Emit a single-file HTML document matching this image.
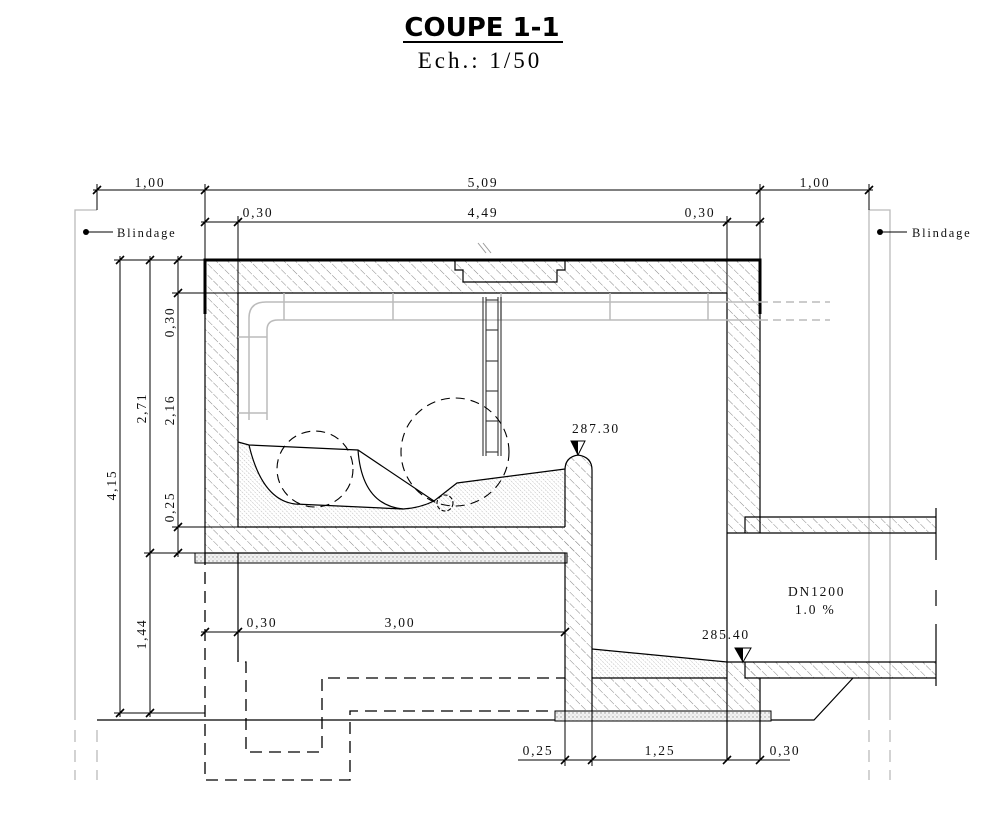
<!DOCTYPE html>
<html><head><meta charset="utf-8"><style>
html,body{margin:0;padding:0;background:#fff;width:1000px;height:818px;overflow:hidden}
svg{display:block}
.t{font-family:"Liberation Serif",serif;font-size:13.5px;letter-spacing:1.8px;fill:#111}
</style></head><body>
<svg width="1000" height="818" viewBox="0 0 1000 818" xmlns="http://www.w3.org/2000/svg">
<defs>
<pattern id="h" width="8" height="8" patternUnits="userSpaceOnUse" patternTransform="rotate(-45)">
<line x1="0" y1="0" x2="0" y2="8" stroke="#888" stroke-width="1" stroke-dasharray="4 1.5"/>
</pattern>
<pattern id="f" width="3" height="3" patternUnits="userSpaceOnUse" patternTransform="rotate(-45)">
<line x1="0" y1="0" x2="0" y2="3" stroke="#aaa" stroke-width="0.8" stroke-dasharray="1.5 1"/>
</pattern>
<pattern id="b" width="4" height="4" patternUnits="userSpaceOnUse">
<rect width="4" height="4" fill="#f2f2f2"/><circle cx="1" cy="1" r="0.7" fill="#999"/><circle cx="3" cy="3" r="0.5" fill="#bbb"/>
</pattern>
</defs>

<!-- title -->
<text x="482" y="36" text-anchor="middle" font-family="DejaVu Sans,sans-serif" font-weight="bold" font-size="26">COUPE 1-1</text>
<line x1="403" y1="42" x2="563" y2="42" stroke="#000" stroke-width="2"/>
<text x="480" y="68" text-anchor="middle" font-family="Liberation Serif,serif" font-size="23" letter-spacing="3">Ech.: 1/50</text>

<!-- blindage gray lines -->
<g stroke="#bbb" stroke-width="1.3" fill="none">
<polyline points="75,720 75,210 97,210"/>
<line x1="75" y1="730" x2="75" y2="780" stroke-dasharray="12 8"/>
<line x1="97" y1="730" x2="97" y2="780" stroke-dasharray="12 8"/>
<polyline points="869,720 869,210 890,210 890,720"/>
<line x1="869" y1="730" x2="869" y2="780" stroke-dasharray="12 8"/>
<line x1="890" y1="730" x2="890" y2="780" stroke-dasharray="12 8"/>
</g>
<circle cx="86" cy="232" r="3" fill="#000"/><line x1="86" y1="232" x2="113" y2="232" stroke="#000"/>
<text x="117" y="237" class="t" style="font-size:12.5px">Blindage</text>
<circle cx="880" cy="232" r="3" fill="#000"/><line x1="880" y1="232" x2="907" y2="232" stroke="#000"/>
<text x="912" y="237" class="t" style="font-size:12.5px">Blindage</text>

<!-- concrete hatch -->
<g fill="url(#h)" stroke="none">
<rect x="205" y="260" width="555" height="33"/>
<rect x="205" y="293" width="33" height="260"/>
<rect x="727" y="293" width="33" height="240"/>
<rect x="238" y="527" width="354" height="26"/>
<rect x="565" y="457" width="27" height="254"/>
<rect x="592" y="678" width="168" height="33"/>
<rect x="727" y="662" width="33" height="16"/>
<rect x="745" y="517" width="191" height="15"/>
<rect x="745" y="662" width="191" height="16"/>
</g>
<!-- blinding -->
<rect x="195" y="553" width="372" height="10" fill="url(#b)" stroke="#000" stroke-width="1"/>
<rect x="555" y="711" width="216" height="10" fill="url(#b)" stroke="#000" stroke-width="1"/>
<!-- fills -->
<path d="M238,442 L249,445 Q262,500 295,504 L403,509 Q420,508 434,501 L457,483 L565,469 L565,527 L238,527Z" fill="url(#f)"/>
<path d="M592,649 L727,662 L727,678 L592,678Z" fill="url(#f)"/>

<!-- structure outlines -->
<g stroke="#000" stroke-width="1.2" fill="none">
<polyline points="238,293 727,293"/>
<polyline points="238,293 238,527 565,527"/>
<polyline points="205,260 205,553 565,553 565,711"/>
<path d="M565,527 L565,470 Q565,457 578,455 Q592,457 592,470 L592,711"/>
<polyline points="727,293 727,760"/>
<polyline points="760,260 760,533"/>
<polyline points="727,533 936,533"/>
<polyline points="745,533 745,517 936,517"/>
<polyline points="727,662 936,662"/>
<polyline points="745,662 745,678 936,678"/>
<polyline points="760,678 760,760"/>
<polyline points="592,678 727,678"/>
<polyline points="592,649 727,662"/>
<polyline points="97,720 555,720"/>
<polyline points="771,720 814,720 853,678"/>
<polyline points="455,261 455,270 463,270 463,282 557,282 557,270 565,270 565,261"/>
<line x1="936" y1="508" x2="936" y2="560"/>
<line x1="936" y1="590" x2="936" y2="606"/>
<line x1="936" y1="624" x2="936" y2="686"/>
<line x1="238" y1="553" x2="238" y2="650"/>
</g>
<g stroke="#000" stroke-width="3" fill="none">
<polyline points="205,314 205,260 760,260 760,314"/>
</g>
<g stroke="#999" stroke-width="1"><line x1="478" y1="243" x2="486" y2="253"/><line x1="483" y1="243" x2="491" y2="253"/></g>

<!-- gray pipe -->
<g stroke="#bbb" stroke-width="1.5" fill="none">
<path d="M249,420 L249,318 Q249,302 266,302 L760,302"/>
<path d="M267,420 L267,330 Q267,320 278,320 L760,320"/>
<line x1="760" y1="302" x2="830" y2="302" stroke-dasharray="8 5"/>
<line x1="760" y1="320" x2="830" y2="320" stroke-dasharray="8 5"/>
<line x1="238" y1="337" x2="267" y2="337"/><line x1="238" y1="413" x2="267" y2="413"/>
<line x1="284" y1="293" x2="284" y2="320"/><line x1="393" y1="293" x2="393" y2="320"/>
<line x1="501" y1="293" x2="501" y2="320"/><line x1="610" y1="293" x2="610" y2="320"/>
<line x1="708" y1="293" x2="708" y2="320"/>
</g>

<!-- ladder -->
<g stroke="#333" stroke-width="1.1" fill="none">
<line x1="483" y1="297" x2="483" y2="456"/><line x1="486" y1="297" x2="486" y2="456"/>
<line x1="498" y1="297" x2="498" y2="456"/><line x1="501" y1="297" x2="501" y2="456"/>
<line x1="486" y1="300" x2="498" y2="300"/>
<line x1="486" y1="330" x2="498" y2="330"/><line x1="486" y1="361" x2="498" y2="361"/>
<line x1="486" y1="391" x2="498" y2="391"/><line x1="486" y1="421" x2="498" y2="421"/>
<line x1="486" y1="452" x2="498" y2="452"/>
</g>

<!-- channel curves -->
<g stroke="#000" stroke-width="1.2" fill="none">
<path d="M238,442 L249,445 L358,450 L434,501"/>
<path d="M249,445 Q262,500 295,504 L403,509 Q420,508 434,501 L457,483 L565,469"/>
<path d="M358,450 Q362,505 403,509"/>
</g>
<g stroke="#000" stroke-width="1.1" fill="none" stroke-dasharray="9 6">
<circle cx="315" cy="469" r="38"/>
<circle cx="455" cy="452" r="54"/>
<circle cx="445" cy="503" r="8" stroke-dasharray="4 2"/>
</g>

<!-- level markers -->
<path d="M571,441 L585,441 L578,455Z" fill="#fff" stroke="#000"/><path d="M571,441 L578,441 L578,455Z" fill="#000"/>
<text x="572" y="433" class="t">287.30</text>
<path d="M735,648 L751,648 L743,662Z" fill="#fff" stroke="#000"/><path d="M735,648 L743,648 L743,662Z" fill="#000"/>
<text x="702" y="639" class="t">285.40</text>
<text x="788" y="596" class="t">DN1200</text>
<text x="795" y="614" class="t">1.0 %</text>

<!-- dashed foundations -->
<g stroke="#000" stroke-width="1.3" fill="none" stroke-dasharray="12 7">
<polyline points="205,553 205,780 350,780 350,711 555,711"/>
<polyline points="238,650 238,662 246,662 246,752 322,752 322,678 565,678"/>
</g>

<!-- dimensions -->
<g stroke="#000" stroke-width="1" fill="none">
<line x1="93" y1="190" x2="873" y2="190"/>
<line x1="97" y1="184" x2="97" y2="210"/><line x1="205" y1="184" x2="205" y2="260"/>
<line x1="760" y1="184" x2="760" y2="260"/><line x1="869" y1="184" x2="869" y2="210"/>
<line x1="201" y1="222" x2="764" y2="222"/>
<line x1="238" y1="216" x2="238" y2="293"/><line x1="727" y1="216" x2="727" y2="293"/>
<line x1="120" y1="256" x2="120" y2="717"/>
<line x1="150" y1="256" x2="150" y2="717"/>
<line x1="178" y1="256" x2="178" y2="557"/>
<line x1="114" y1="260" x2="205" y2="260"/>
<line x1="172" y1="293" x2="238" y2="293"/>
<line x1="172" y1="527" x2="238" y2="527"/>
<line x1="144" y1="553" x2="205" y2="553"/>
<line x1="114" y1="713" x2="205" y2="713"/>
<line x1="201" y1="632" x2="565" y2="632"/>
<line x1="518" y1="760" x2="790" y2="760"/>
<line x1="565" y1="711" x2="565" y2="766"/>
<line x1="592" y1="711" x2="592" y2="766"/>
</g>
<g stroke="#000" stroke-width="1.6">
<path d="M93,194 L101,186 M201,194 L209,186 M756,194 L764,186 M865,194 L873,186"/>
<path d="M201,226 L209,218 M234,226 L242,218 M723,226 L731,218 M756,226 L764,218"/>
<path d="M116,264 L124,256 M116,717 L124,709 M146,264 L154,256 M146,557 L154,549 M146,717 L154,709"/>
<path d="M174,264 L182,256 M174,297 L182,289 M174,531 L182,523 M174,557 L182,549"/>
<path d="M201,636 L209,628 M234,636 L242,628 M561,636 L569,628"/>
<path d="M561,764 L569,756 M588,764 L596,756 M723,764 L731,756 M756,764 L764,756"/>
</g>
<text x="150" y="187" text-anchor="middle" class="t">1,00</text>
<text x="483" y="187" text-anchor="middle" class="t">5,09</text>
<text x="815" y="187" text-anchor="middle" class="t">1,00</text>
<text x="258" y="217" text-anchor="middle" class="t">0,30</text>
<text x="483" y="217" text-anchor="middle" class="t">4,49</text>
<text x="700" y="217" text-anchor="middle" class="t">0,30</text>
<text x="262" y="627" text-anchor="middle" class="t">0,30</text>
<text x="400" y="627" text-anchor="middle" class="t">3,00</text>
<text x="538" y="755" text-anchor="middle" class="t">0,25</text>
<text x="660" y="755" text-anchor="middle" class="t">1,25</text>
<text x="785" y="755" text-anchor="middle" class="t">0,30</text>
<text transform="translate(116,485) rotate(-90)" text-anchor="middle" class="t">4,15</text>
<text transform="translate(146,408) rotate(-90)" text-anchor="middle" class="t">2,71</text>
<text transform="translate(146,634) rotate(-90)" text-anchor="middle" class="t">1,44</text>
<text transform="translate(174,322) rotate(-90)" text-anchor="middle" class="t">0,30</text>
<text transform="translate(174,410) rotate(-90)" text-anchor="middle" class="t">2,16</text>
<text transform="translate(174,507) rotate(-90)" text-anchor="middle" class="t">0,25</text>
</svg>
</body></html>
